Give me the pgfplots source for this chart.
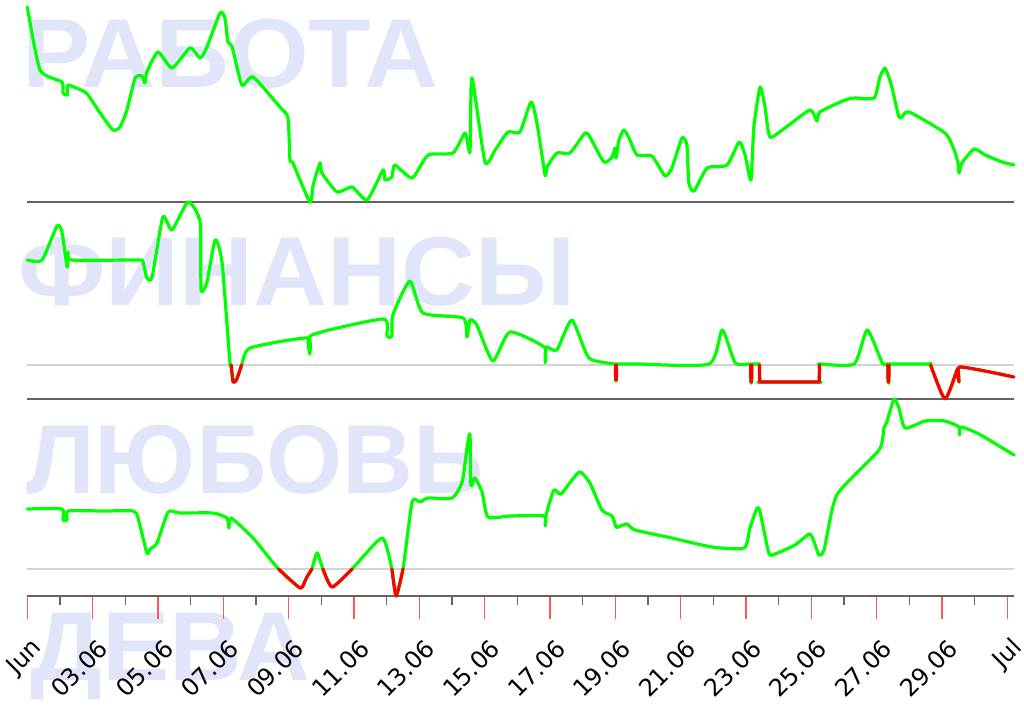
\documentclass[border=0pt]{standalone}
\usepackage{fontspec}
\setmainfont{DejaVu Sans}
\newfontfamily\wmfont{Liberation Sans}
\usepackage{pgfplots}
\pgfplotsset{compat=1.18}
\definecolor{wm}{RGB}{224,229,250}
\definecolor{lgreen}{RGB}{0,255,0}
\definecolor{lred}{RGB}{255,0,0}
\definecolor{sep}{RGB}{100,100,100}
\definecolor{zeroc}{RGB}{210,210,210}
\definecolor{tickred}{RGB}{255,90,90}

% Panel 1: РАБОТА
\pgfplotstableread{
x y
0.00 195
0.39 132
1.06 120
1.09 109
1.22 107
1.25 117
1.77 110
1.86 107
2.23 89
2.62 72
2.84 75
3.05 92
3.30 124
3.51 126
3.60 119
3.66 130
4.00 150
4.43 134
4.98 154
5.29 144
5.50 155
5.90 189
6.05 184
6.14 160
6.27 155
6.57 117
6.91 125
7.73 95
7.98 84
8.04 42
8.13 39
8.65 0
8.75 17
8.96 39
9.02 29
9.48 10
9.94 15
10.40 2
10.89 32
10.95 22
11.16 25
11.25 37
11.78 24
12.27 47
13.03 49
13.40 69
13.55 50
13.61 124
14.01 40
14.32 52
14.71 70
15.08 70
15.42 100
15.60 79
15.85 27
15.91 35
16.21 49
16.61 49
17.07 69
17.22 65
17.65 40
17.90 45
17.99 54
18.02 44
18.11 62
18.26 72
18.42 64
18.66 47
19.12 46
19.52 26
19.73 34
20.04 64
20.19 57
20.25 19
20.41 11
20.81 34
21.42 37
21.79 60
21.97 47
22.15 22
22.24 75
22.43 115
22.58 95
22.73 65
23.19 74
23.96 92
24.17 81
24.26 90
25.03 102
25.34 104
25.92 104
26.10 125
26.25 134
26.38 124
26.47 114
26.68 85
26.77 85
26.99 90
28.09 69
28.37 52
28.49 39
28.52 29
28.61 39
28.98 53
29.32 47
29.84 40
30.20 37
}\work

% Panel 2: ФИНАНСЫ
\pgfplotstableread{
x y
0.00 105
0.45 105
0.91 139
1.06 133
1.22 98
1.25 113
1.37 105
3.39 105
3.54 103
3.66 87
3.82 88
4.15 148
4.43 135
4.92 163
5.29 143
5.32 75
5.50 83
5.75 125
5.96 103
6.20 3
6.24 0
6.30 -17
6.40 -15
6.53 -3
6.56 0
6.82 17
8.56 27
8.65 11
8.71 30
10.89 46
11.01 29
11.16 29
11.19 50
11.71 84
12.11 52
13.34 47
13.46 28
13.55 45
13.76 40
14.25 4
14.77 33
15.82 18
15.85 2
15.88 18
16.21 15
16.67 45
17.19 7
17.99 1
18.00 0
18.01 -15
18.03 -15
18.04 0
18.05 1
18.66 1
20.87 1
21.27 35
21.67 2
22.12 1
22.14 0
22.15 -17
22.17 -17
22.18 0
22.22 1
22.40 1
22.41 0
22.42 -17
22.44 -17
24.22 -17
24.24 -17
24.25 0
24.26 1
25.31 1
25.71 35
26.17 2
26.32 1
26.34 0
26.35 -17
26.37 -17
26.38 0
26.40 1
27.62 1
27.65 0
28.09 -34
28.46 -5
28.50 -6
28.52 -17
28.55 -2
30.20 -12
}\money

\pgfplotstableread{
x y
6.24 0
6.30 -17
6.40 -15
6.53 -3
6.56 0
}\moneyRa
\pgfplotstableread{
x y
18.00 0
18.01 -15
18.03 -15
18.04 0
}\moneyRb
\pgfplotstableread{
x y
22.14 0
22.15 -17
22.17 -17
22.18 0
}\moneyRc
\pgfplotstableread{
x y
22.41 0
22.42 -17
24.24 -17
24.25 0
}\moneyRd
\pgfplotstableread{
x y
26.34 0
26.35 -17
26.37 -17
26.38 0
}\moneyRe
\pgfplotstableread{
x y
27.65 0
28.09 -34
28.46 -5
28.50 -6
28.52 -17
28.55 -2
30.20 -12
}\moneyRf

% Panel 3: ЛЮБОВЬ
\pgfplotstableread{
x y
0.00 60
1.06 60
1.09 49
1.22 49
1.25 58
2.32 58
3.24 58
3.39 51
3.66 16
3.76 20
3.97 26
4.31 57
4.67 56
5.68 56
6.11 51
6.17 41
6.24 51
6.91 31
7.69 0
8.35 -19
8.50 -12
8.56 -8
8.71 0
8.87 16
9.05 0
9.33 -18
9.94 0
10.86 31
11.16 0
11.29 -27
11.50 0
11.78 67
12.02 67
12.27 71
13.00 71
13.31 87
13.46 121
13.55 135
13.58 84
13.70 91
13.92 77
14.10 52
14.77 53
15.82 53
15.85 43
15.88 54
16.12 79
16.34 75
16.89 97
17.22 86
17.59 59
17.90 53
18.02 42
18.08 42
18.36 45
18.60 39
19.73 31
20.96 22
21.94 21
22.12 41
22.34 61
22.43 57
22.70 16
22.89 15
23.50 24
23.96 35
24.17 19
24.23 14
24.39 19
24.78 74
26.07 119
26.22 141
26.31 147
26.53 170
26.68 161
26.87 141
27.48 148
28.09 148
28.52 142
28.54 134
28.58 142
29.13 135
30.20 114
}\love

\pgfplotstableread{
x y
7.69 0
8.35 -19
8.50 -12
8.56 -8
8.71 0
}\loveRa
\pgfplotstableread{
x y
9.05 0
9.33 -18
9.94 0
}\loveRb
\pgfplotstableread{
x y
11.16 0
11.29 -27
11.50 0
}\loveRc

\pgfplotsset{
  panel/.style={
    scale only axis, width=986.6pt, height=197pt,
    xmin=0, xmax=30.2, clip=false,
    axis x line*=bottom, axis y line=none,
    x axis line style={-, draw=sep, line width=1.5pt},
    anchor=south west,
  },
  gline/.style={lgreen, line width=3.2pt, line join=round, line cap=round, smooth, tension=0.35},
  rline/.style={lred, line width=3.2pt, line join=round, line cap=round, smooth, tension=0.35},
  rsharp/.style={lred, line width=3.2pt, line join=round, line cap=round},
  zline/.style={zeroc, line width=1.5pt},
}

\begin{document}
\begin{tikzpicture}
\useasboundingbox (0pt,0pt) rectangle (1024pt,-706pt);
\tikzset{wmtext/.style={anchor=base west, inner sep=0pt, text=wm,
  transform shape,
  font={\wmfont\bfseries\fontsize{98}{98}\selectfont}}}
\node[wmtext, xscale=1.045] at (22pt,-88pt) {РАБОТА};
\node[wmtext, xscale=1.045] at (18pt,-305pt) {ФИНАНСЫ};
\node[wmtext] at (26pt,-493pt) {ЛЮБОВЬ};
\node[wmtext, xscale=1.03] at (30pt,-680pt) {ДЕВА};

\begin{axis}[panel, at={(27.3pt,-202pt)}, ymin=0, ymax=197, xtick=\empty, ytick=\empty]
\addplot[gline] table {\work};
\end{axis}

\begin{axis}[panel, at={(27.3pt,-399pt)}, ymin=-34, ymax=163, xtick=\empty, ytick=\empty]
\addplot[zline] coordinates {(0,0) (30.2,0)};
\addplot[gline] table {\money};
\addplot[rline] table {\moneyRa};
\addplot[rsharp] table {\moneyRb};
\addplot[rsharp] table {\moneyRc};
\addplot[rsharp] table {\moneyRd};
\addplot[rsharp] table {\moneyRe};
\addplot[rline] table {\moneyRf};
\end{axis}

\begin{axis}[panel, at={(27.3pt,-596pt)}, ymin=-27, ymax=170, ytick=\empty,
  xtick={0,2,...,30},
  xticklabels={Jun,03.06,05.06,07.06,09.06,11.06,13.06,15.06,17.06,19.06,21.06,23.06,25.06,27.06,29.06,Jul},
  minor x tick num=1,
  tick align=outside,
  major tick length=23pt, minor tick length=9pt,
  major tick style={draw=tickred, line width=1.2pt},
  minor tick style={draw=sep, line width=1.5pt},
  xticklabel style={xshift=11pt, yshift=-25pt, rotate=45, anchor=east, inner sep=0pt,
    font={\fontsize{24}{24}\selectfont}},
]
\addplot[zline] coordinates {(0,0) (30.2,0)};
\addplot[gline] table {\love};
\addplot[rline] table {\loveRa};
\addplot[rline] table {\loveRb};
\addplot[rline] table {\loveRc};
\end{axis}
\end{tikzpicture}
\end{document}
